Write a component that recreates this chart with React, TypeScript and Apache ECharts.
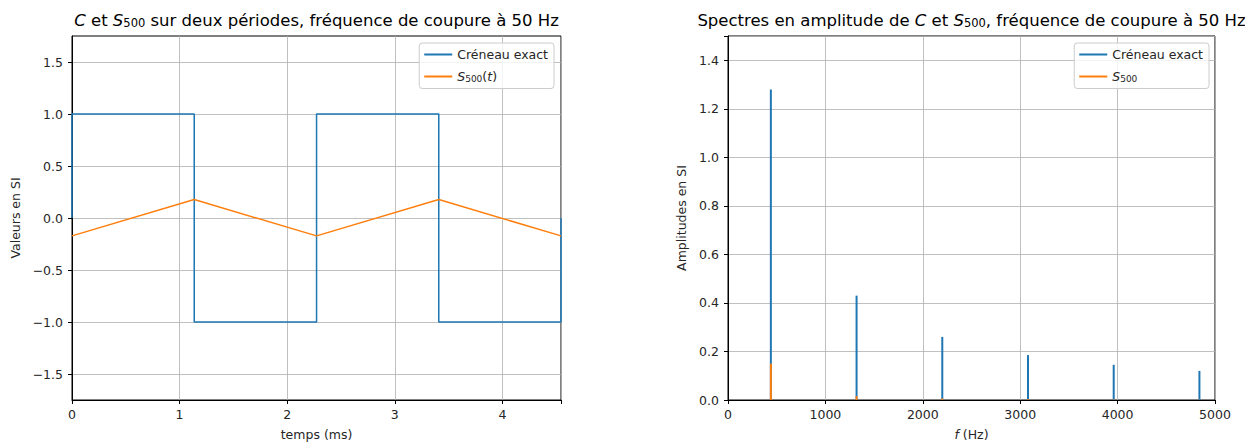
import React, { useEffect, useRef } from "react";
import * as echarts from "echarts";

// ---- Data ----
// Left: square wave C (exact) over two periods, time in ms
const squareT = [0, 0, 1.136, 1.136, 2.273, 2.273, 3.409, 3.409, 4.545, 4.545];
const squareV = [0, 1, 1, -1, -1, 1, 1, -1, -1, 0];
// Left: filtered signal S500(t)
const filtT = [0, 1.136, 2.273, 3.409, 4.545];
const filtV = [-0.172, 0.177, -0.172, 0.177, -0.172];
// Right: amplitude spectra
const freqs = [440, 1320, 2200, 3080, 3960, 4840];
const ampC = [1.28, 0.43, 0.26, 0.185, 0.145, 0.12];
const ampS = [0.15, 0.016, 0.006, 0.003, 0.0018, 0.0012];
// Tick values
const leftXTicks = [0, 1, 2, 3, 4];
const leftYTicks = [-1.5, -1, -0.5, 0, 0.5, 1, 1.5];
const rightYTicks = [0, 0.2, 0.4, 0.6, 0.8, 1.0, 1.2, 1.4];

const BLUE = "#1f77b4";
const ORANGE = "#ff7f0e";
const GRIDC = "#b0b0b0";
const FONT = "DejaVu Sans";
const TXT = "#262626";

const fmt1 = (v: number) => v.toFixed(1).replace("-", "\u2212");
const isTick = (v: number, ticks: number[]) => ticks.some((t) => Math.abs(t - v) < 1e-6);

export default function App() {
  const ref = useRef<HTMLDivElement>(null);
  useEffect(() => {
    if (!ref.current) return;
    const chart = echarts.init(ref.current, undefined, { renderer: "svg" });
    const axisLineStyle = { show: true, onZero: false, lineStyle: { color: "#000", width: 1 } };
    const tick = { show: true, length: 4, inside: false, lineStyle: { color: "#000", width: 1 } };
    const xlabel = { color: TXT, fontFamily: FONT, fontSize: 12.5, margin: 8 };
    const ylabel = { color: TXT, fontFamily: FONT, fontSize: 12.5, margin: 9 };
    const split = { show: true, lineStyle: { color: GRIDC, width: 0.8 } };
    const rich = {
      i: { fontStyle: "italic", fontFamily: FONT, fontSize: 12.5, color: TXT },
      s: { fontFamily: FONT, fontSize: 9, color: TXT, padding: [5, 0, 0, 0] },
      n: { fontFamily: FONT, fontSize: 12.5, color: TXT },
    };
    const TS = 16.5;
    const titleRich = {
      i: { fontStyle: "italic", fontFamily: FONT, fontSize: TS, fill: "#000" },
      n: { fontFamily: FONT, fontSize: TS, fill: "#000" },
      s: { fontFamily: FONT, fontSize: 11.5, fill: "#000", padding: [6, 0, 0, 0] },
    };
    const legendFmt = (name: string) => {
      if (name === "S500(t)") return "{i|S}{s|500}{n|(}{i|t}{n|)}";
      if (name === "S500") return "{i|S}{s|500}";
      return "{n|" + name + "}";
    };
    const legendBase = {
      orient: "vertical",
      top: 43,
      icon: "rect",
      itemWidth: 28,
      itemHeight: 2,
      itemGap: 9,
      padding: [5, 6, 5, 5],
      backgroundColor: "rgba(255,255,255,0.8)",
      borderColor: "#cccccc",
      borderWidth: 1,
      borderRadius: 3,
      formatter: legendFmt,
      textStyle: { fontFamily: FONT, fontSize: 12.5, color: TXT, rich },
      selectedMode: false,
    };
    const gridBase = { outerBoundsMode: "none", containLabel: false };

    chart.setOption({
      animation: false,
      backgroundColor: "#fff",
      textStyle: { fontFamily: FONT },
      graphic: [
        {
          type: "text",
          x: 316.5,
          y: 20,
          style: {
            text: "{i|C}{n| et }{i|S}{s|500}{n| sur deux périodes, fréquence de coupure à 50 Hz}",
            rich: titleRich,
            align: "center",
            verticalAlign: "middle",
          },
        },
        {
          type: "text",
          x: 971.5,
          y: 20,
          style: {
            text: "{n|Spectres en amplitude de }{i|C}{n| et }{i|S}{s|500}{n|, fréquence de coupure à 50 Hz}",
            rich: titleRich,
            align: "center",
            verticalAlign: "middle",
          },
        },
      ],
      legend: [
        { ...legendBase, right: 691, data: ["Créneau exact", "S500(t)"] },
        { ...legendBase, right: 36, data: ["Créneau exact", "S500"] },
      ],
      grid: [
        { ...gridBase, left: 72, right: 684, top: 36, bottom: 42, show: true, borderColor: "#000", borderWidth: 1, backgroundColor: "transparent" },
        { ...gridBase, left: 72, right: 684, top: 62, bottom: 68, show: false },
        { ...gridBase, left: 728, right: 30, top: 36, bottom: 42, show: true, borderColor: "#000", borderWidth: 1, backgroundColor: "transparent" },
      ],
      xAxis: [
        {
          type: "value",
          gridIndex: 0,
          min: 0,
          max: 4.545,
          interval: 1,
          axisLine: axisLineStyle,
          axisTick: tick,
          axisLabel: { ...xlabel, formatter: (v: number) => (isTick(v, leftXTicks) ? String(Math.round(v)) : "") },
          splitLine: split,
          name: "temps (ms)",
          nameLocation: "middle",
          nameGap: 28,
          nameTextStyle: { fontFamily: FONT, fontSize: 12.5, color: TXT },
        },
        { type: "value", gridIndex: 1, min: 0, max: 4.545, show: false },
        {
          type: "value",
          gridIndex: 2,
          min: 0,
          max: 5000,
          interval: 1000,
          axisLine: axisLineStyle,
          axisTick: tick,
          axisLabel: { ...xlabel, formatter: (v: number) => String(Math.round(v)) },
          splitLine: split,
          name: "{i|f}{n| (Hz)}",
          nameLocation: "middle",
          nameGap: 28,
          nameTextStyle: { fontFamily: FONT, fontSize: 12.5, color: TXT, rich },
        },
      ],
      yAxis: [
        {
          type: "value",
          gridIndex: 0,
          min: -1.75,
          max: 1.75,
          axisLine: axisLineStyle,
          axisTick: { show: false },
          axisLabel: { show: false },
          splitLine: { show: false },
          name: "Valeurs en SI",
          nameLocation: "middle",
          nameGap: 50,
          nameTextStyle: { fontFamily: FONT, fontSize: 12.5, color: TXT },
        },
        {
          type: "value",
          gridIndex: 1,
          min: -1.5,
          max: 1.5,
          interval: 0.5,
          axisLine: { show: false },
          axisTick: tick,
          axisLabel: { ...ylabel, formatter: (v: number) => (isTick(v, leftYTicks) ? fmt1(v) : "") },
          splitLine: split,
        },
        {
          type: "value",
          gridIndex: 2,
          min: 0,
          max: 1.5,
          interval: 0.2,
          axisLine: axisLineStyle,
          axisTick: tick,
          axisLabel: { ...ylabel, formatter: (v: number) => (isTick(v, rightYTicks) ? fmt1(v) : "") },
          splitLine: split,
          name: "Amplitudes en SI",
          nameLocation: "middle",
          nameGap: 40,
          nameTextStyle: { fontFamily: FONT, fontSize: 12.5, color: TXT },
        },
      ],
      series: [
        {
          name: "Créneau exact",
          type: "line",
          xAxisIndex: 0,
          yAxisIndex: 0,
          data: squareT.map((t, i) => [t, squareV[i]]),
          showSymbol: false,
          symbol: "none",
          lineStyle: { color: BLUE, width: 1.5 },
          itemStyle: { color: BLUE },
          z: 3,
        },
        {
          name: "S500(t)",
          type: "line",
          xAxisIndex: 0,
          yAxisIndex: 0,
          data: filtT.map((t, i) => [t, filtV[i]]),
          showSymbol: false,
          symbol: "none",
          lineStyle: { color: ORANGE, width: 1.5 },
          itemStyle: { color: ORANGE },
          z: 4,
        },
        {
          name: "Créneau exact",
          type: "bar",
          xAxisIndex: 2,
          yAxisIndex: 2,
          data: freqs.map((f, i) => [f, ampC[i]]),
          barWidth: 2,
          barGap: "-100%",
          itemStyle: { color: BLUE },
          z: 3,
        },
        {
          name: "S500",
          type: "bar",
          xAxisIndex: 2,
          yAxisIndex: 2,
          data: freqs.map((f, i) => [f, ampS[i]]),
          barWidth: 2,
          barGap: "-100%",
          itemStyle: { color: ORANGE },
          z: 4,
        },
      ],
    });
    return () => chart.dispose();
  }, []);
  return <div ref={ref} style={{ position: "absolute", left: 0, top: 0, width: 1245, height: 442 }} />;
}
